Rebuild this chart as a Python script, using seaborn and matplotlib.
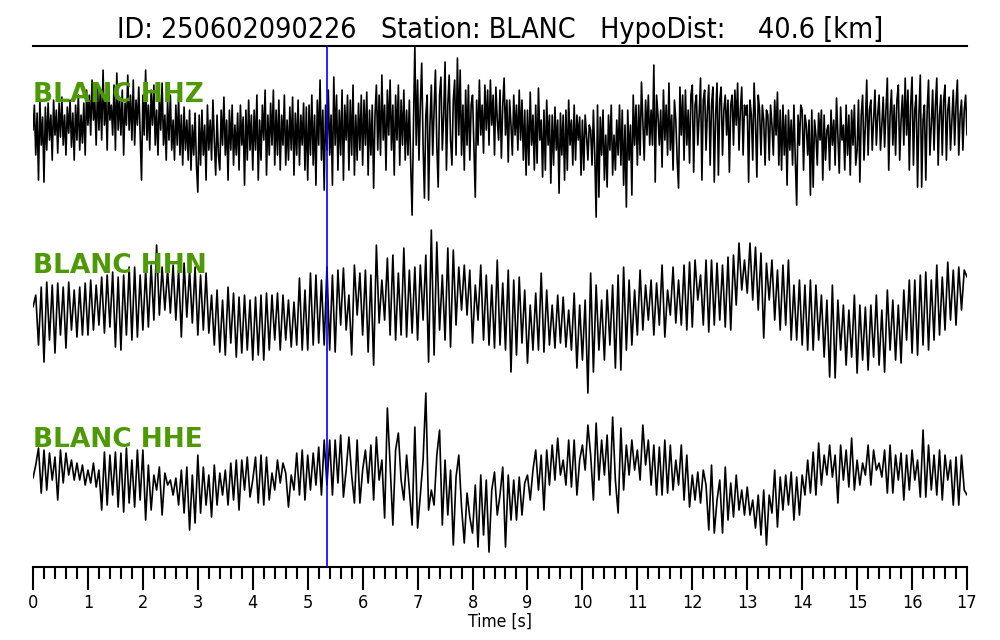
import numpy as np
import pandas as pd
import matplotlib
matplotlib.use("Agg")
import matplotlib.pyplot as plt
from matplotlib.ticker import MultipleLocator
import seaborn as sns

# ---------------- data (amplitudes, arbitrary counts) ----------------
event_id = "250602090226"
station = "BLANC"
hypo_dist_km = 40.6
channels = ["HHZ", "HHN", "HHE"]
duration_s = 17.0
pick_time_s = 5.35
major_ticks = list(range(0, 18))

# HHZ read at 40 samples/s
hhz_counts = [
    -5, 20, -30, 12, -55, 25, -20, 8, -57, 18, -25, 22, -15, 10, -35, 25, -10, 15, -28, 22,
    -12, 28, -20, 10, -30, 18, -8, 25, -22, 12, -35, 20, -15, 30, -25, 10, -18, 22, -30, 35,
    0, 30, -10, 45, 5, 25, -20, 40, -5, 35, -15, 55, 0, 30, -25, 42, 5, 20, -10, 40,
    -25, 52, -5, 28, -10, 35, -30, 22, 0, 50, -5, 30, -15, 45, -20, 25, 0, 38, -10, -55,
    30, -10, 55, -15, 20, -25, 35, 0, 40, -20, 15, -30, 30, -5, 42, -20, 10, -35, 25, -15,
    30, -25, 5, -35, 20, -20, 28, -30, 10, -40, 18, -25, 5, -35, 15, -45, 0, -30, 12, -40,
    -67, 10, -40, 15, -30, 0, -55, 20, -25, 5, -35, 25, -15, -50, 10, -30, -45, 15, -20, 28,
    -30, 5, -55, 15, -25, 20, -40, 0, -30, 12, -45, 20, -20, 8, -60, 15, -35, 25, -25, 10,
    -45, 15, -25, 30, -55, 5, -35, 20, -15, 35, -50, 10, -30, 22, -20, 35, -40, 15, -30, 25,
    -45, 10, -20, 30, -40, 5, -35, 18, -25, 28, -50, 12, -30, 25, -40, 10, -20, 22, -45, 18,
    -55, 20, -30, 30, -40, 10, -60, 25, -20, 45, -35, 15, -65, 20, -25, 35, -30, 10, -60, 48,
    -20, 30, -45, 15, -30, 35, -55, 20, -15, 30, -45, 25, -30, 40, -50, 10, -35, 22, -25, 30,
    -40, 25, -20, 33, -50, 15, -30, 20, -63, 10, 40, -25, 30, -30, 50, -15, 20, -45, 35, -10,
    45, -25, 20, -50, 30, -15, 40, -40, 25, -20, 35, -35, 15, -30, 25, -40, -90, 0, 79, -20,
    45, -35, 20, 62, -20, -73, 10, 30, -75, 0, 40, -30, 15, 55, -20, -62, 30, 48, -25, 10,
    63, -45, 20, 50, -15, -40, 25, 45, -30, 67, -10, 55, -30, 20, -45, 35, -20, 40, -35, 20,
    30, -20, -72, 25, -20, 45, -10, 20, -28, 40, -5, 35, -20, 45, 0, 30, -30, 38, 5, -15,
    35, -33, 20, 47, -10, 25, -37, 25, 0, -30, 30, -10, 20, -25, 35, -15, 25, -35, 15, -50,
    15, -40, 33, -20, 10, -45, 20, -38, 37, -15, 5, -52, 15, -45, 25, -20, 10, -58, 10, -40,
    18, -25, 5, -68, 12, -30, 10, -55, 15, -45, 25, -20, 5, -40, 20, -35, 10, -15, 8, -50,
    5, -45, 10, -10, -35, 0, -5, -40, 15, -30, -92, 20, -72, 8, -30, 15, -55, -10, -62, 10,
    -25, 20, -50, -10, -45, 5, -30, 20, -40, 15, -60, 0, -82, 15, -35, 0, -70, 30, -20, 20,
    -40, 20, -30, 43, 5, -35, 25, -10, 30, -20, 15, -20, 60, -57, 30, 10, -20, 15, -42, 35,
    -15, 20, -30, 42, -25, 10, -45, 25, 5, -35, -63, 38, -10, 30, -35, 35, -20, 15, -38, 30,
    40, -47, 20, 30, -20, 10, 47, -55, 25, 35, -25, 15, 40, -40, 20, 38, -57, 10, 42, -50,
    25, 38, -30, 15, 30, -10, 25, -47, 20, 30, -20, 35, 0, 42, -25, 15, 38, -30, 20, 10,
    20, -57, 25, 10, -35, 42, 5, -52, 30, 15, -30, 20, 5, -40, 15, 10, -35, 20, 0, -30,
    25, -10, 33, -40, 15, -45, 20, -30, 10, -60, 15, -25, 5, -40, 20, -35, -80, 10, -20, 20,
    15, -45, 10, 0, -30, 5, -70, 15, -62, 5, -10, -40, 12, -15, 15, -55, 10, -35, -5, 0,
    -45, 15, -20, 5, -40, 27, -10, -48, 18, -15, 0, -45, 20, -30, 10, -50, 15, -20, 20, -40,
    -25, 25, -57, 10, 30, -35, 0, 45, -30, 15, 25, -25, 5, 35, -20, 10, 30, -25, 0, 28,
    -22, 15, 47, -45, 10, 35, -20, 20, -30, 25, 40, -35, 5, 30, -20, 47, -10, 35, -45, 20,
    48, -40, 15, 30, -62, 10, 50, -62, 5, 20, -55, 15, 45, -30, 0, 35, -25, 20, 47, -40,
    10, 30, -30, 25, 40, -35, 15, 28, -25, 5, 35, -20, 20, 45, -30, 10, 25, -25, 15, 30, -10,
]

# HHN read at 20 samples/s
hhn_counts = [
    -2, 10, -40, 18, -57, 23, -35, 20, -48, 22, -30, 18, -43, 23, -25, 15, -32, 18, -30, 22,
    -30, 25, -25, 20, -20, 28, -28, 30, -22, 33, -42, 28, -45, 30, -30, 38, -35, 38, -32, 30,
    -25, 35, -22, 40, -15, 60, -10, 38, -5, 35, -8, 40, -15, 35, -32, 42, -12, 35, -18, 38,
    -30, 30, -25, 32, -28, 10, -40, 15, -47, 5, -50, 18, -38, 12, -52, 8, -48, 10, -45, 5,
    -55, 8, -50, 10, -55, 12, -45, 10, -35, 12, -45, 10, -35, 5, -42, 3, -40, 27, -45, 15,
    -45, 32, -40, 30, -38, 25, -40, 38, -45, 30, -47, 35, -20, 37, -25, 10, -50, 40, -10, 32,
    -30, 35, -47, 30, -60, 60, -18, 25, -15, 47, -30, 50, -35, 32, -30, 57, -32, 35, -28, 38,
    -35, 40, -15, 50, -57, 75, -50, 63, -25, 30, -35, 57, -42, 55, -20, 38, -5, 40, -10, 35,
    -38, 20, -15, 40, -35, 30, -40, 20, -43, 45, -40, 22, -45, 35, -67, 25, -50, 28, -38, 15,
    -58, 0, -45, 12, -45, 32, -47, 15, -40, 0, -43, 10, -38, 8, -42, -5, -45, 12, -63, 0,
    -55, 5, -88, 32, -67, 20, -45, 5, -55, 15, -40, 20, -63, 30, -65, 38, -45, 25, -40, 15,
    -30, 35, -25, 20, -15, 25, -30, 22, -20, 40, -32, 15, -10, 38, -18, 25, -20, 40, -25, 43,
    -22, 45, 5, 30, -20, 45, -27, 45, -20, 42, -15, 40, -22, 48, -25, 50, 0, 62, 15, 45,
    12, 62, 5, 58, -5, 52, -33, 42, 5, 45, -15, 35, -25, 40, -20, 45, -35, 20, -35, 25,
    -40, 20, -45, 25, -45, 20, -35, 10, -52, 5, -72, 20, -73, 5, -45, 0, -60, -5, -52, 10,
    -68, 0, -55, -2, -65, 0, -52, 10, -60, -5, -67, 15, -45, 5, -55, 0, -58, 15, -35, 25,
    -48, 25, -50, 30, -40, 33, -45, 25, -35, 40, -30, 28, -25, 43, -15, 35, -20, 38, -5, 35, 28,
]

# HHE read at 20 samples/s
hhe_counts = [
    -3, 10, 27, -18, 25, -15, 22, -5, 18, -25, 25, -8, 22, 0, 15, -5, 12, -5, 10, -10,
    5, -8, 12, -12, 5, -35, 23, -30, 20, -20, 23, -32, 22, -37, 27, -28, 15, -32, 25, -25,
    25, -45, 10, -35, 0, -15, 8, -40, 2, -10, -5, -20, -3, -30, 5, -38, 8, -55, 0, -48,
    20, -38, 8, -30, 0, -42, 10, -30, 2, -20, 5, -30, 12, -25, 15, -35, 15, -15, 18, -22,
    -5, 18, -28, 20, -30, 18, -25, 2, -15, 15, -8, 12, 2, -32, 0, -15, 22, -20, 25, -25,
    20, -15, 22, -10, 28, -20, 35, -10, 35, -20, 35, -8, 40, -22, 5, 38, 0, -28, 35, -28,
    5, 25, -8, 30, -25, 38, -5, 15, -43, 67, 10, -50, 25, 42, -5, -25, 20, -15, -50, 48,
    -53, -20, 15, 82, -35, -15, -30, 20, 45, -50, 15, -40, 5, -70, -2, 20, -32, -68, -18, -42,
    -58, -10, -72, 0, -60, -5, -77, -15, 3, -40, -20, 8, -72, 0, -45, -5, -45, -2, -40, -8,
    0, -25, 5, 25, -15, 20, -35, 25, -10, 30, -5, 37, 0, 15, -10, 35, -12, 35, -20, 15,
    30, 5, 50, 20, -25, 52, -5, 35, 0, 40, -20, 58, -5, -38, 47, -15, 30, 0, 35, 5,
    25, -5, 50, 10, 35, -10, 30, -20, 28, -20, 35, -18, 30, -15, 15, -10, 30, -25, 20, -32,
    0, -25, 3, -28, 5, -10, -55, 10, -58, -25, -5, -58, 8, -45, -8, -42, 0, -35, -15, -40,
    -12, -40, -25, -53, -20, -60, -15, -70, -20, -38, 5, -52, -2, -35, 0, -30, 3, -45, -2, -40,
    0, -20, 15, -18, 23, -20, 32, -10, 20, 0, 30, -2, 20, -28, 30, -5, 25, -12, 37, -15,
    15, -10, 12, 0, 30, -10, 25, 5, 12, -2, 25, -18, 30, -18, 20, -5, 22, -25, 20, -15,
    25, -5, 15, -22, 45, -22, 30, -15, 20, -20, 25, -25, 20, -5, 15, -30, 18, -30, 20, -15, -20,
]

# ---------------- layout ----------------
trace_counts = {"HHZ": hhz_counts, "HHN": hhn_counts, "HHE": hhe_counts}
trace_offsets = {"HHZ": -79, "HHN": -259, "HHE": -429}    # vertical placement of each trace
label_y = {"HHZ": -56, "HHN": -227, "HHE": -401}

frames = []
for ch in channels:
    vals = np.asarray(trace_counts[ch], dtype=float)
    t = np.linspace(0.0, duration_s, len(vals))
    frames.append(pd.DataFrame({"time": t, "y": vals + trace_offsets[ch], "channel": ch}))
df = pd.concat(frames, ignore_index=True)

sns.set_theme(style="white")
plt.rcParams["font.family"] = ["DejaVu Sans"]
plt.rcParams["text.color"] = "black"
plt.rcParams["axes.labelcolor"] = "black"
plt.rcParams["xtick.color"] = "black"
plt.rcParams["xtick.labelcolor"] = "black"

fig = plt.figure(figsize=(10, 6.4), dpi=100)
ax = fig.add_axes([0.033, 0.114, 0.934, 0.814])

sns.lineplot(data=df, x="time", y="y", hue="channel", units="channel",
             palette=["black"] * 3, estimator=None, sort=False, legend=False,
             linewidth=1.2, ax=ax)

ax.axvline(pick_time_s, color="#0000ff", linewidth=1.2, zorder=3)

for ch in channels:
    ax.text(0.0, label_y[ch], f"{station} {ch}", color="#4E9A06", fontsize=19,
            fontweight="bold", ha="left", va="baseline", zorder=4)

ax.set_xlim(0, duration_s)
ax.set_ylim(-521, 0)
ax.set_yticks([])
ax.set_ylabel("")
ax.set_xticks(major_ticks)
ax.set_xticklabels([str(v) for v in major_ticks], fontsize=13, fontstretch="condensed")
ax.xaxis.set_minor_locator(MultipleLocator(0.2))
ax.tick_params(axis="x", which="major", direction="out", length=16.5, width=1.5,
               color="black", pad=3, bottom=True)
ax.tick_params(axis="x", which="minor", direction="out", length=8.5, width=1.5,
               color="black", bottom=True)
ax.set_xlabel("Time [s]", fontsize=12.5, labelpad=0.5, fontstretch="condensed")

for side in ["left", "right"]:
    ax.spines[side].set_visible(False)
for side in ["top", "bottom"]:
    ax.spines[side].set_visible(True)
    ax.spines[side].set_color("black")
    ax.spines[side].set_linewidth(1.5)

title = f"ID: {event_id}   Station: {station}   HypoDist:    {hypo_dist_km} [km]"
ax.set_title(title, fontsize=20.5, pad=5.8, fontstretch="condensed", color="black")

fig.savefig("out.png", dpi=100, facecolor="white")
